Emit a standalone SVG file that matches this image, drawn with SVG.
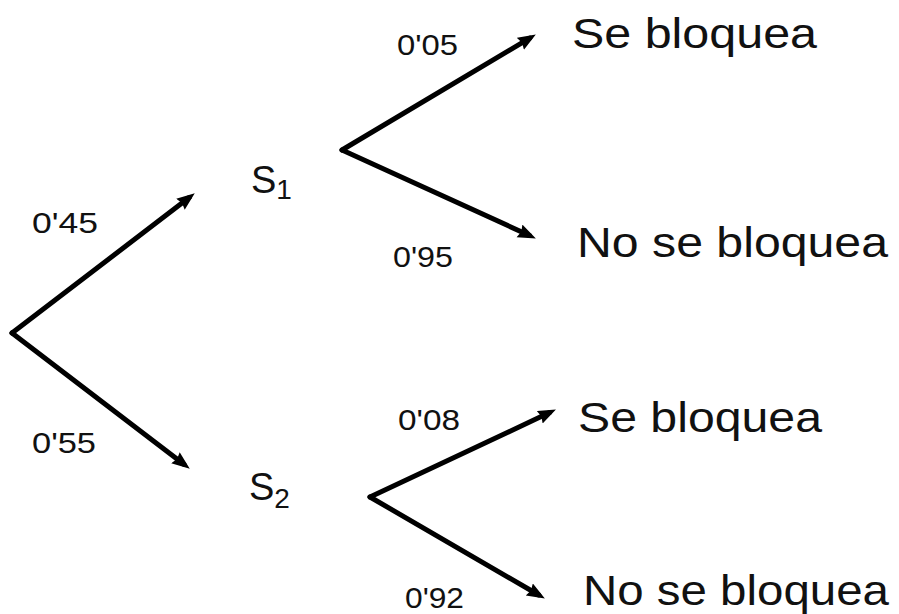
<svg xmlns="http://www.w3.org/2000/svg" width="899" height="614" viewBox="0 0 899 614">
<style>
text{font-family:"Liberation Sans",Arial,sans-serif;fill:#111}
.p{font-size:30px}
.o{font-size:43px}
.s{font-size:38px}
.sub{font-size:28px}
.c{stroke:#000;stroke-width:5;fill:none;stroke-linecap:round}
</style>
<defs>
<marker id="ah" markerUnits="userSpaceOnUse" markerWidth="20" markerHeight="16" refX="11" refY="7" orient="auto">
<path d="M0,0 L18,7 L0,14 L2,7 z" fill="#000"/>
</marker>
</defs>
<rect width="899" height="614" fill="#fff"/>
<g id="connectors">
<line class="c" x1="12" y1="333" x2="189.2" y2="197.6" marker-end="url(#ah)"/>
<line class="c" x1="12" y1="333" x2="184.2" y2="464.4" marker-end="url(#ah)"/>
<line class="c" x1="342" y1="150" x2="529.8" y2="38.1" marker-end="url(#ah)"/>
<line class="c" x1="342" y1="150" x2="529.5" y2="235.5" marker-end="url(#ah)"/>
<line class="c" x1="370" y1="497" x2="549.6" y2="412.6" marker-end="url(#ah)"/>
<line class="c" x1="370" y1="497" x2="538.8" y2="595" marker-end="url(#ah)"/>
</g>
<g id="labels">
<text class="p" x="32" y="233" textLength="66" lengthAdjust="spacingAndGlyphs">0'45</text>
<text class="p" x="32" y="453" textLength="64" lengthAdjust="spacingAndGlyphs">0'55</text>
<text class="p" x="397" y="55" textLength="61" lengthAdjust="spacingAndGlyphs">0'05</text>
<text class="p" x="393" y="267" textLength="60" lengthAdjust="spacingAndGlyphs">0'95</text>
<text class="p" x="398" y="430" textLength="62" lengthAdjust="spacingAndGlyphs">0'08</text>
<text class="p" x="405" y="608" textLength="59" lengthAdjust="spacingAndGlyphs">0'92</text>
</g>
<g id="S1">
<text class="s" x="251" y="193">S<tspan class="sub" dy="6">1</tspan></text>
</g>
<g id="S2">
<text class="s" x="249" y="500">S<tspan class="sub" dy="8">2</tspan></text>
</g>
<g id="se1"><text class="o" x="572" y="48" textLength="245" lengthAdjust="spacingAndGlyphs">Se bloquea</text></g>
<g id="no1"><text class="o" x="577" y="257" textLength="311" lengthAdjust="spacingAndGlyphs">No se bloquea</text></g>
<g id="se2"><text class="o" x="578" y="432" textLength="244" lengthAdjust="spacingAndGlyphs">Se bloquea</text></g>
<g id="no2"><text class="o" x="583" y="605" textLength="306" lengthAdjust="spacingAndGlyphs">No se bloquea</text></g>
</svg>
